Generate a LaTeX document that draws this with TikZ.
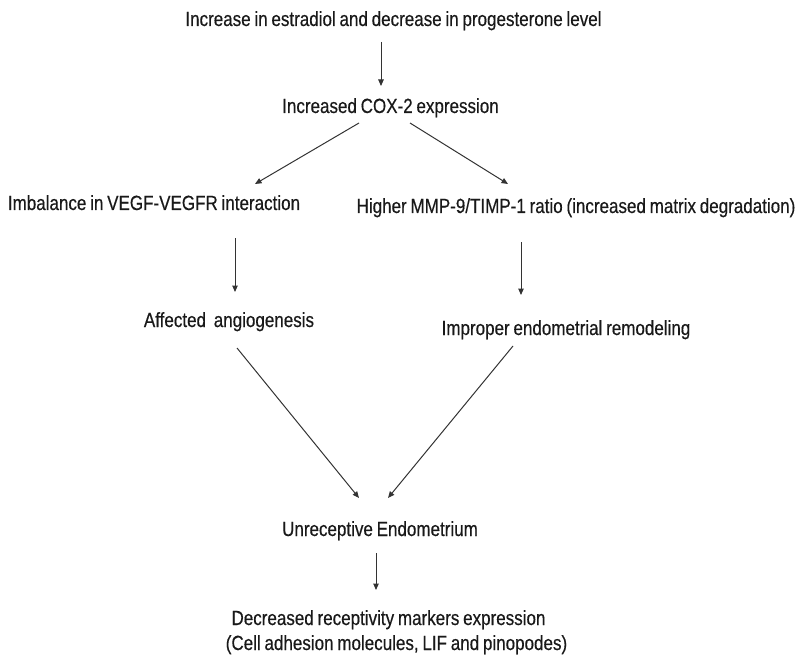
\documentclass[tikz,border=0pt]{standalone}
\usepackage{fontspec}
\setmainfont{Liberation Sans}[FakeStretch=0.83,WordSpace=0.8,FakeBold=0.4]
\usetikzlibrary{arrows.meta}
\begin{document}
\begin{tikzpicture}[x=1pt,y=-1pt,
  lbl/.style={anchor=base,inner sep=0pt,font=\fontsize{20.5}{24}\selectfont,text=black!90},
  arr/.style={draw=black!80,line width=1pt,-{Triangle[length=6.5pt,width=5.5pt]}}]
\useasboundingbox (0,0) rectangle (803,663);
\node[lbl] (top)  at (393.5,26)  {Increase in estradiol and decrease in progesterone level};
\node[lbl] (cox)  at (390.5,113) {Increased COX-2 expression};
\node[lbl] (vegf) at (154,210)   {Imbalance in VEGF-VEGFR interaction};
\node[lbl] (mmp)  at (576,213)   {Higher MMP-9/TIMP-1 ratio (increased matrix degradation)};
\node[lbl] (ang)  at (229,327)   {Affected\hspace{4pt} angiogenesis};
\node[lbl] (imp)  at (566,335)   {Improper endometrial remodeling};
\node[lbl] (unr)  at (380,536)   {Unreceptive Endometrium};
\node[lbl] (dec)  at (388.5,625) {Decreased receptivity markers expression};
\node[lbl] (cell) at (396.5,650) {(Cell adhesion molecules, LIF and pinopodes)};
\draw[arr] ([shift={(-12.5,16)}]top.base) -- ([shift={(-9.5,-27)}]cox.base);
\draw[arr] ([shift={(-31.5,10)}]cox.base) -- ([shift={(101,-26)}]vegf.base);
\draw[arr] ([shift={(19.5,10)}]cox.base) -- ([shift={(-68,-29)}]mmp.base);
\draw[arr] ([shift={(81,28)}]vegf.base) -- ([shift={(6,-35)}]ang.base);
\draw[arr] ([shift={(-55,29)}]mmp.base) -- ([shift={(-45,-40)}]imp.base);
\draw[arr] ([shift={(8,21)}]ang.base) -- ([shift={(-21,-38)}]unr.base);
\draw[arr] ([shift={(-53,11)}]imp.base) -- ([shift={(8,-38)}]unr.base);
\draw[arr] ([shift={(-4,17)}]unr.base) -- ([shift={(-12.5,-35)}]dec.base);
\end{tikzpicture}
\end{document}
